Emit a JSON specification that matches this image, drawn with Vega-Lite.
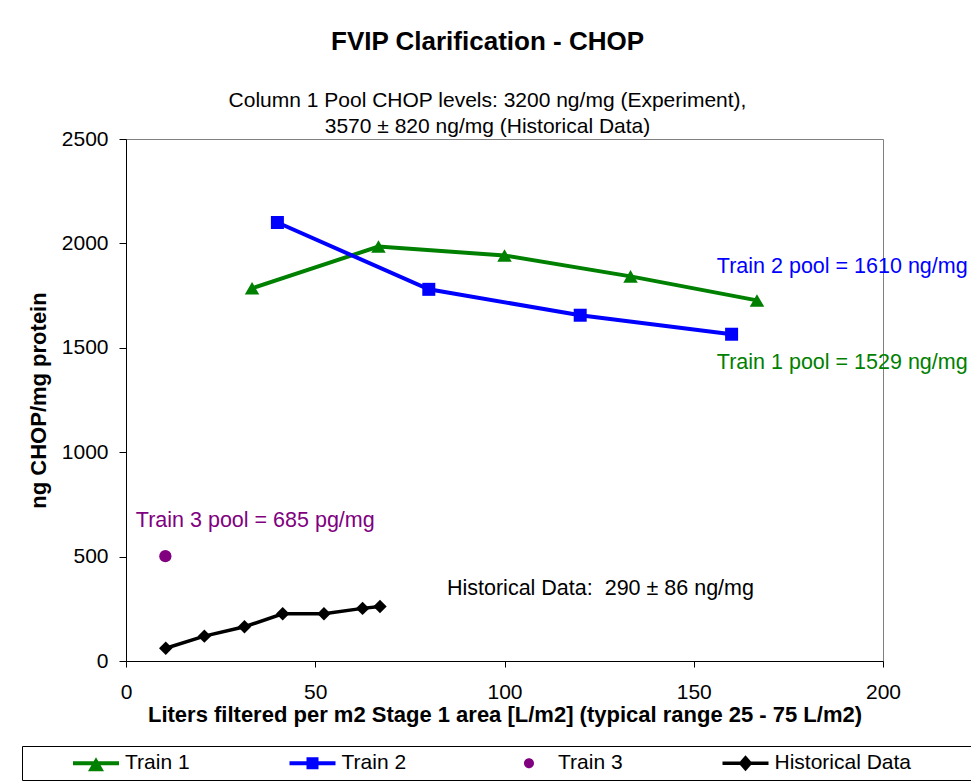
{
  "$schema": "https://vega.github.io/schema/vega-lite/v6.json",
  "autosize": {"type": "none"},
  "padding": {"left": 126, "top": 139, "right": 88, "bottom": 121},
  "width": 757,
  "height": 522,
  "background": "white",
  "title": {
    "text": "FVIP Clarification - CHOP",
    "subtitle": ["Column 1 Pool CHOP levels: 3200 ng/mg (Experiment),", "3570 ± 820 ng/mg (Historical Data)"],
    "font": "Liberation Sans",
    "fontSize": 26,
    "fontWeight": "bold",
    "color": "black",
    "subtitleFont": "Liberation Sans",
    "subtitleFontSize": 21,
    "subtitleColor": "black",
    "subtitleLineHeight": 26,
    "subtitlePadding": 35,
    "anchor": "middle",
    "frame": "group",
    "offset": -9,
    "dx": -17
  },
  "datasets": {
    "points": [
      {"series": "Train 1", "x": 33.3, "y": 1785},
      {"series": "Train 1", "x": 66.7, "y": 1985},
      {"series": "Train 1", "x": 100, "y": 1942},
      {"series": "Train 1", "x": 133.3, "y": 1842},
      {"series": "Train 1", "x": 166.7, "y": 1727},
      {"series": "Train 2", "x": 40, "y": 2100},
      {"series": "Train 2", "x": 80, "y": 1780},
      {"series": "Train 2", "x": 120, "y": 1656},
      {"series": "Train 2", "x": 160, "y": 1565},
      {"series": "Train 3", "x": 10.4, "y": 502},
      {"series": "Historical Data", "x": 10.5, "y": 61},
      {"series": "Historical Data", "x": 20.7, "y": 119},
      {"series": "Historical Data", "x": 31.3, "y": 164},
      {"series": "Historical Data", "x": 41.4, "y": 226},
      {"series": "Historical Data", "x": 52.3, "y": 226},
      {"series": "Historical Data", "x": 62.5, "y": 252},
      {"series": "Historical Data", "x": 67.1, "y": 261}
    ],
    "notes": [
      {"series": "Train 2", "x": 156.1, "y": 1887, "text": "Train 2 pool = 1610 ng/mg"},
      {"series": "Train 1", "x": 156.1, "y": 1427, "text": "Train 1 pool = 1529 ng/mg"},
      {"series": "Train 3", "x": 2.6, "y": 670, "text": "Train 3 pool = 685 pg/mg"},
      {"series": "Historical Data", "x": 84.8, "y": 345, "text": "Historical Data:\u00a0 290 ± 86 ng/mg"}
    ]
  },
  "encoding": {
    "x": {
      "field": "x", "type": "quantitative",
      "scale": {"domain": [0, 200], "nice": false, "zero": true},
      "axis": {
        "title": "Liters filtered per m2 Stage 1 area [L/m2] (typical range 25 - 75 L/m2)",
        "values": [0, 50, 100, 150, 200],
        "format": "d",
        "labelFlush": false,
        "labelFontSize": 21,
        "tickSize": 6,
        "labelPadding": 14,
        "titlePadding": 2,
        "titleFontSize": 22,
        "titleFontWeight": "bold"
      }
    },
    "y": {
      "field": "y", "type": "quantitative",
      "scale": {"domain": [0, 2500], "nice": false},
      "axis": {
        "title": "ng CHOP/mg protein",
        "values": [0, 500, 1000, 1500, 2000, 2500],
        "format": "d",
        "labelFlush": false,
        "labelFontSize": 21,
        "tickSize": 7,
        "labelPadding": 11,
        "titlePadding": 11,
        "titleFontSize": 22,
        "titleFontWeight": "bold"
      }
    }
  },
  "layer": [
    {
      "data": {"name": "points"},
      "transform": [{"filter": "datum.series == 'Train 1'"}],
      "mark": {"type": "line", "color": "#008000", "strokeWidth": 4,
               "point": {"shape": "triangle-up", "size": 210, "filled": true, "color": "#008000"}}
    },
    {
      "data": {"name": "points"},
      "transform": [{"filter": "datum.series == 'Train 2'"}],
      "mark": {"type": "line", "color": "#0000ff", "strokeWidth": 4,
               "point": {"shape": "square", "size": 169, "filled": true, "color": "#0000ff"}}
    },
    {
      "data": {"name": "points"},
      "transform": [{"filter": "datum.series == 'Train 3'"}],
      "mark": {"type": "point", "shape": "circle", "size": 150, "filled": true, "color": "#800080", "opacity": 1}
    },
    {
      "data": {"name": "points"},
      "transform": [{"filter": "datum.series == 'Historical Data'"}],
      "mark": {"type": "line", "color": "#000000", "strokeWidth": 3.5,
               "point": {"shape": "diamond", "size": 180, "filled": true, "color": "#000000"}}
    },
    {
      "data": {"name": "points"},
      "mark": {"type": "point", "filled": true, "opacity": 0, "size": 400},
      "encoding": {
        "color": {
          "field": "series", "type": "nominal",
          "scale": {"domain": ["Train 1", "Train 2", "Train 3", "Historical Data"], "range": ["#008000", "#0000ff", "#800080", "#000000"]},
          "legend": {
            "orient": "none", "legendX": -104, "legendY": 607,
            "direction": "horizontal", "columns": 4,
            "title": " ", "titleOrient": "left", "titleFontSize": 1, "titlePadding": 57,
            "padding": 6.5, "strokeColor": "black",
            "labelFont": "Liberation Sans", "labelFontSize": 21, "labelColor": "black", "labelLimit": 400,
            "labelOffset": 18.5, "columnPadding": 98.5,
            "symbolSize": 400, "symbolOpacity": 1, "symbolStrokeWidth": 0
          }
        },
        "shape": {
          "field": "series", "type": "nominal",
          "scale": {"domain": ["Train 1", "Train 2", "Train 3", "Historical Data"],
                    "range": ["M-2.3,-0.2H2.3V0.2H-2.3Z M0,-0.6L0.8,0.8L-0.8,0.8Z",
                              "M-2.3,-0.2H2.3V0.2H-2.3Z M-0.6,-0.6H0.6V0.6H-0.6Z",
                              "M-2.3,0L-2.3,0Z M2.3,0L2.3,0Z M-0.5,0A0.5,0.5 0 1,1 0.5,0A0.5,0.5 0 1,1 -0.5,0Z",
                              "M-2.3,-0.17H2.3V0.17H-2.3Z M0,-0.8L0.7,0L0,0.8L-0.7,0Z M24,0L24,0Z"]},
          "legend": {
            "orient": "none", "legendX": -104, "legendY": 607,
            "direction": "horizontal", "columns": 4,
            "title": " ", "titleOrient": "left", "titleFontSize": 1, "titlePadding": 57,
            "padding": 6.5, "strokeColor": "black",
            "labelFont": "Liberation Sans", "labelFontSize": 21, "labelColor": "black", "labelLimit": 400,
            "labelOffset": 18.5, "columnPadding": 98.5,
            "symbolSize": 400, "symbolOpacity": 1, "symbolStrokeWidth": 0
          }
        }
      }
    },
    {
      "data": {"name": "notes"},
      "mark": {"type": "text", "align": "left", "baseline": "middle", "font": "Liberation Sans", "fontSize": 21.5},
      "encoding": {
        "text": {"field": "text"},
        "fill": {
          "field": "series", "type": "nominal",
          "scale": {"domain": ["Train 1", "Train 2", "Train 3", "Historical Data"], "range": ["#008000", "#0000ff", "#800080", "#000000"]},
          "legend": null
        }
      }
    }
  ],
  "resolve": {"scale": {"fill": "independent"}},
  "config": {
    "font": "Liberation Sans",
    "view": {"stroke": "#808080", "strokeWidth": 1},
    "axis": {
      "grid": false,
      "domainColor": "black",
      "tickColor": "black",
      "labelColor": "black",
      "titleColor": "black",
      "labelFont": "Liberation Sans",
      "titleFont": "Liberation Sans"
    }
  }
}
